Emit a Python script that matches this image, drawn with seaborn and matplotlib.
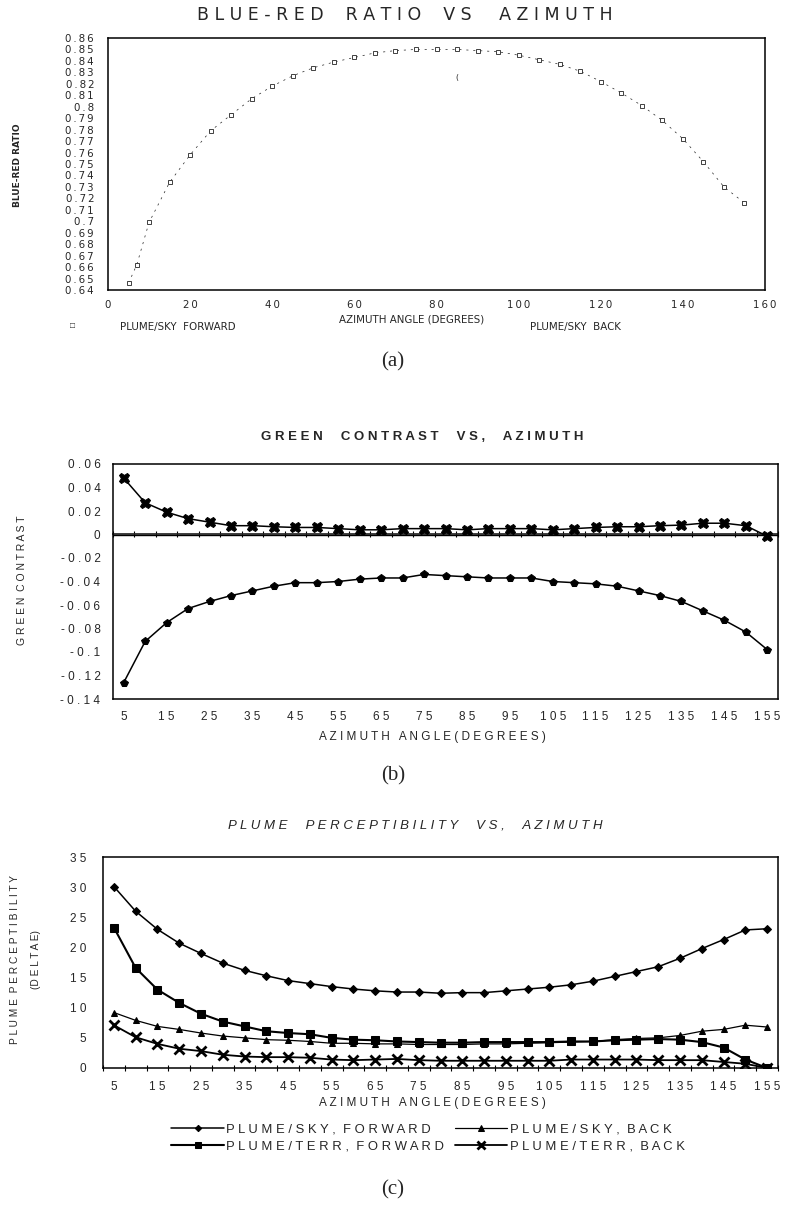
import numpy as np
import pandas as pd
import matplotlib
matplotlib.use("Agg")
import matplotlib.pyplot as plt
from matplotlib.ticker import FixedLocator, NullFormatter
import seaborn as sns

sns.set_theme(style="white")
plt.rcParams['font.family'] = ['Liberation Sans', 'DejaVu Sans']

# ---------------- data ----------------
# (a) blue-red ratio
ratio_az = [5, 7, 10, 15, 20, 25, 30, 35, 40, 45, 50, 55, 60, 65, 70, 75,
            80, 85, 90, 95, 100, 105, 110, 115, 120, 125, 130, 135, 140,
            145, 150, 155]
ratio_fwd = [0.646, 0.662, 0.699, 0.734, 0.758, 0.779, 0.793, 0.807, 0.818,
             0.827, 0.834, 0.839, 0.843, 0.847, 0.849, 0.850, 0.850, 0.850,
             0.849, 0.848, 0.845, 0.841, 0.837, 0.831, 0.822, 0.812, 0.801,
             0.788, 0.772, 0.752, 0.730, 0.716]
ratio_back_az = [85]
ratio_back = [0.826]

# (b) green contrast, azimuth 5..155 step 5
azimuth = list(range(5, 160, 5))
green_upper = [0.048, 0.027, 0.019, 0.0135, 0.0105, 0.0075, 0.0075, 0.0066,
               0.006, 0.006, 0.005, 0.004, 0.004, 0.005, 0.005, 0.005,
               0.004, 0.005, 0.005, 0.005, 0.004, 0.005, 0.006, 0.0066,
               0.0066, 0.0075, 0.008, 0.0096, 0.0096, 0.0075, -0.0015]
green_lower = [-0.126, -0.091, -0.075, -0.063, -0.057, -0.052, -0.048,
               -0.044, -0.041, -0.041, -0.040, -0.038, -0.037, -0.037,
               -0.034, -0.035, -0.036, -0.037, -0.037, -0.037, -0.040,
               -0.041, -0.042, -0.044, -0.048, -0.052, -0.057, -0.065,
               -0.073, -0.083, -0.098]

# (c) plume perceptibility (delta E)
sky_fwd = [30.1, 26.0, 23.0, 20.7, 19.0, 17.4, 16.2, 15.3, 14.5, 14.0, 13.5,
           13.1, 12.8, 12.6, 12.6, 12.4, 12.5, 12.5, 12.8, 13.1, 13.4, 13.8,
           14.4, 15.2, 16.0, 16.8, 18.2, 19.8, 21.3, 22.9, 23.1]
terr_fwd = [23.3, 16.6, 13.0, 10.8, 9.0, 7.7, 6.9, 6.1, 5.8, 5.6, 5.0, 4.7,
            4.6, 4.4, 4.3, 4.2, 4.2, 4.3, 4.3, 4.3, 4.3, 4.4, 4.4, 4.6, 4.7,
            4.8, 4.7, 4.3, 3.4, 1.4, 0.0]
sky_back = [9.2, 7.9, 6.9, 6.4, 5.8, 5.3, 5.0, 4.7, 4.6, 4.4, 4.1, 4.1, 4.0,
            4.0, 3.9, 3.9, 3.9, 4.0, 4.0, 4.1, 4.2, 4.3, 4.4, 4.7, 4.9, 5.0,
            5.4, 6.1, 6.4, 7.1, 6.8]
terr_back = [7.1, 5.1, 4.0, 3.2, 2.8, 2.2, 1.9, 1.8, 1.8, 1.7, 1.4, 1.3, 1.4,
             1.5, 1.3, 1.2, 1.2, 1.2, 1.2, 1.2, 1.2, 1.4, 1.4, 1.4, 1.4, 1.3,
             1.3, 1.3, 1.0, 0.7, 0.0]

category_labels = [str(a) for a in azimuth[::2]]

# ---------------- layout helpers ----------------
W, H = 786, 1211
fig = plt.figure(figsize=(W / 100, H / 100), dpi=100)
fig.patch.set_facecolor("white")


def rect(left, right, top, bottom):
    return [left / W, 1 - bottom / H, (right - left) / W, (bottom - top) / H]


def ftext(x, y, s, **kw):
    fig.text(x / W, 1 - y / H, s, **kw)


def spaced(s):
    return " ".join(s)


def thin(s):
    return "\u2009".join(s)


def frame(ax, lw=1.0):
    for sp in ax.spines.values():
        sp.set_visible(True)
        sp.set_color("black")
        sp.set_linewidth(lw)
    ax.set_facecolor("white")
    ax.grid(False)


def category_axis(ax, axis_y_frac=0.0):
    ax.set_xlim(2.5, 157.5)
    ax.xaxis.set_major_locator(FixedLocator(azimuth[::2]))
    ax.set_xticklabels([spaced(l) for l in category_labels])
    ax.tick_params(axis="x", which="major", length=0, pad=9, labelsize=8.5)
    bounds = np.arange(2.5, 158, 5)
    sec = ax.secondary_xaxis(axis_y_frac)
    sec.xaxis.set_major_locator(FixedLocator(bounds))
    sec.xaxis.set_major_formatter(NullFormatter())
    sec.tick_params(axis="x", direction="inout", length=4, width=0.8,
                    color="black")
    sec.spines["bottom"].set_visible(False)


# ---------------- (a) ----------------
ax_a = fig.add_axes(rect(108, 765, 38, 290))
frame(ax_a, 1.1)
df_a = pd.DataFrame({"az": ratio_az, "ratio": ratio_fwd})
sns.lineplot(data=df_a, x="az", y="ratio", ax=ax_a, color="#222222",
             linewidth=0.5, dashes=(3, 7), marker="s", markersize=3.2,
             markerfacecolor="white", markeredgecolor="#222222",
             markeredgewidth=0.6, label="PLUME/SKY  FORWARD", sort=False)
sns.scatterplot(x=ratio_back_az, y=ratio_back, ax=ax_a, marker="$($",
                s=25, color="#222222", linewidth=0, label="PLUME/SKY  BACK")
ax_a.set_xlim(0, 160)
ax_a.set_ylim(0.64, 0.86)
yt = np.round(np.arange(0.64, 0.8601, 0.01), 2)
ax_a.set_yticks(yt)
ax_a.set_yticklabels([thin(f"{v:g}") for v in yt], family=["DejaVu Sans"])
ax_a.set_xticks(range(0, 161, 20))
ax_a.set_xticklabels([thin(str(v)) for v in range(0, 161, 20)],
                     family=["DejaVu Sans"])
ax_a.set_xticks(range(10, 161, 20), minor=True)
ax_a.tick_params(axis="both", which="both", direction="out", length=4,
                 width=0.8, color="black", labelsize=7.4)
ax_a.tick_params(axis="y", pad=6)
ax_a.set_xlabel("")
ax_a.set_ylabel("")
ax_a.legend_.remove()
ftext(412, 319, "AZIMUTH ANGLE (DEGREES)", ha="center", va="center",
      fontsize=7.4, family=["DejaVu Sans"])
ftext(72, 327, "\u25a1", ha="center", va="center", fontsize=6)
ftext(120, 327, "PLUME/SKY  FORWARD", ha="left", va="center", fontsize=7.4,
      family=["DejaVu Sans"])
ftext(530, 327, "PLUME/SKY  BACK", ha="left", va="center", fontsize=7.4,
      family=["DejaVu Sans"])
ftext(18, 165, "BLUE-RED RATIO", ha="center", va="center", rotation=90,
      fontsize=6.5, family=["Liberation Sans Narrow", "DejaVu Sans"],
      fontweight="bold")
ftext(405, 15, spaced("BLUE-RED") + "    " + spaced("RATIO") + "    "
      + spaced("VS") + "     " + spaced("AZIMUTH"),
      ha="center", va="center", fontsize=12.5, family=["DejaVu Sans"])
ftext(393, 362, "(a)", ha="center", va="center", fontsize=15,
      family=["Liberation Serif", "DejaVu Serif"])

# ---------------- (b) ----------------
ax_b = fig.add_axes(rect(113, 778, 464, 699))
frame(ax_b, 1.1)
df_b = pd.DataFrame({"az": azimuth, "upper": green_upper,
                     "lower": green_lower})
sns.lineplot(data=df_b, x="az", y="upper", ax=ax_b, color="black",
             linewidth=1.1, marker="X", markersize=7.5,
             markeredgecolor="black", markerfacecolor="black")
sns.lineplot(data=df_b, x="az", y="lower", ax=ax_b, color="black",
             linewidth=1.1, marker="p", markersize=5.5,
             markeredgecolor="black", markerfacecolor="black")
ax_b.axhline(0, color="black", linewidth=1.0, zorder=1)
ax_b.set_ylim(-0.14, 0.06)
ybt = np.round(np.arange(-0.14, 0.0601, 0.02), 2)
ax_b.set_yticks(ybt)
ax_b.set_yticklabels([spaced(f"{v:g}") for v in ybt])
ax_b.tick_params(axis="y", direction="in", length=3, width=0.8,
                 labelsize=8.5, pad=9)
category_axis(ax_b, axis_y_frac=0.7)
ax_b.set_xlabel("")
ax_b.set_ylabel("")
ftext(22, 580, spaced("GREEN") + "  " + spaced("CONTRAST"), ha="center",
      va="center", rotation=90, fontsize=7.5)
ftext(432, 737, spaced("AZIMUTH") + "   " + spaced("ANGLE(DEGREES)"),
      ha="center", va="center", fontsize=8.5)
ftext(422, 437, spaced("GREEN") + "     " + spaced("CONTRAST") + "     "
      + spaced("VS,") + "     " + spaced("AZIMUTH"),
      ha="center", va="center", fontsize=9.5, fontweight="bold")
ftext(393, 776, "(b)", ha="center", va="center", fontsize=15,
      family=["Liberation Serif", "DejaVu Serif"])

# ---------------- (c) ----------------
ax_c = fig.add_axes(rect(103, 778, 857, 1068))
frame(ax_c, 1.1)
df_c = pd.DataFrame({"az": azimuth, "sky_fwd": sky_fwd, "terr_fwd": terr_fwd,
                     "sky_back": sky_back, "terr_back": terr_back})
sns.lineplot(data=df_c, x="az", y="sky_fwd", ax=ax_c, color="black",
             linewidth=1.1, marker="D", markersize=4,
             markeredgecolor="black", markerfacecolor="black",
             label=spaced("PLUME/SKY,") + "  " + spaced("FORWARD"))
sns.lineplot(data=df_c, x="az", y="terr_fwd", ax=ax_c, color="black",
             linewidth=1.5, marker="s", markersize=6,
             markeredgecolor="black", markerfacecolor="black",
             label=spaced("PLUME/TERR,") + "  " + spaced("FORWARD"))
sns.lineplot(data=df_c, x="az", y="sky_back", ax=ax_c, color="black",
             linewidth=0.9, marker="^", markersize=5,
             markeredgecolor="black", markerfacecolor="black",
             label=spaced("PLUME/SKY,") + "  " + spaced("BACK"))
sns.lineplot(data=df_c, x="az", y="terr_back", ax=ax_c, color="black",
             linewidth=1.3, marker="x", markersize=7, markeredgewidth=2,
             markeredgecolor="black",
             label=spaced("PLUME/TERR,") + "  " + spaced("BACK"))
ax_c.set_ylim(0, 35)
ax_c.set_yticks(range(0, 36, 5))
ax_c.set_yticklabels([spaced(str(v)) for v in range(0, 36, 5)])
ax_c.tick_params(axis="y", direction="in", length=3, width=0.8,
                 labelsize=8.5, pad=12)
category_axis(ax_c, axis_y_frac=0.0)
ax_c.set_xlabel("")
ax_c.set_ylabel("")
handles, labels = ax_c.get_legend_handles_labels()
ax_c.legend_.remove()
fig.legend(handles, labels, ncol=2, loc="center",
           bbox_to_anchor=(428 / W, 1 - 1138 / H), frameon=False,
           fontsize=9.4, handlelength=4.0, handletextpad=0.2,
           columnspacing=0.8, labelspacing=0.4, borderpad=0,
           markerscale=0.8)
ftext(15, 960, spaced("PLUME") + "  " + spaced("PERCEPTIBILITY"),
      ha="center", va="center", rotation=90, fontsize=7.3)
ftext(36, 960, "(" + spaced("DELTA") + " E)", ha="center", va="center",
      rotation=90, fontsize=7.3)
ftext(432, 1103, spaced("AZIMUTH") + "   " + spaced("ANGLE(DEGREES)"),
      ha="center", va="center", fontsize=8.5)
ftext(415, 826, spaced("PLUME") + "     " + spaced("PERCEPTIBILITY") + "     "
      + spaced("VS,") + "     " + spaced("AZIMUTH"),
      ha="center", va="center", fontsize=9.5, style="italic")
ftext(393, 1190, "(c)", ha="center", va="center", fontsize=15,
      family=["Liberation Serif", "DejaVu Serif"])

fig.savefig("out.png", dpi=100, facecolor="white")
